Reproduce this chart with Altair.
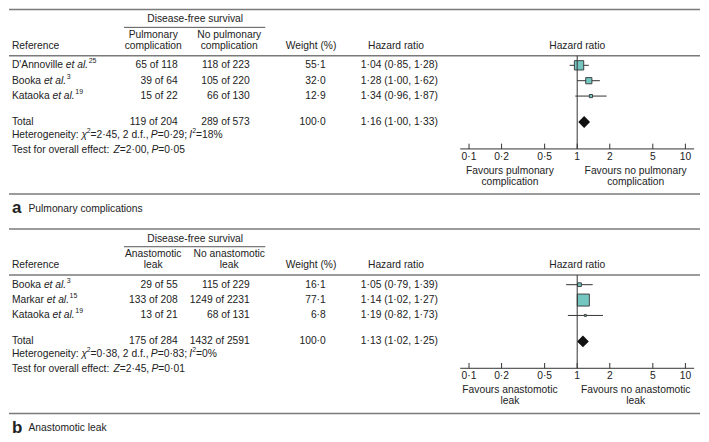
import altair as alt
import pandas as pd

# ------------------------------------------------------------------ data
A_refs = ["D'Annoville", "Booka", "Kataoka"]
A_refnum = ["25", "3", "19"]
A_exp_events = [65, 39, 15]
A_exp_total = [118, 64, 22]
A_ctl_events = [118, 105, 66]
A_ctl_total = [223, 220, 130]
A_weight = [55.1, 32.0, 12.9]
A_hr = [1.04, 1.28, 1.34]
A_lo = [0.85, 1.00, 0.96]
A_hi = [1.28, 1.62, 1.87]
A_total = [119, 204, 289, 573, 100.0, 1.16, 1.00, 1.33]
A_het = [2.45, 2, 0.29, 18]     # chi2, df, P, I2
A_test = [2.00, 0.05]           # Z, P
A_groups = [["Pulmonary", "complication"], ["No pulmonary", "complication"]]
A_favours = [["Favours pulmonary", "complication"], ["Favours no pulmonary", "complication"]]
A_caption = ["a", "Pulmonary complications"]

B_refs = ["Booka", "Markar", "Kataoka"]
B_refnum = ["3", "15", "19"]
B_exp_events = [29, 133, 13]
B_exp_total = [55, 208, 21]
B_ctl_events = [115, 1249, 68]
B_ctl_total = [229, 2231, 131]
B_weight = [16.1, 77.1, 6.8]
B_hr = [1.05, 1.14, 1.19]
B_lo = [0.79, 1.02, 0.82]
B_hi = [1.39, 1.27, 1.73]
B_total = [175, 284, 1432, 2591, 100.0, 1.13, 1.02, 1.25]
B_het = [0.38, 2, 0.83, 0]
B_test = [2.45, 0.01]
B_groups = [["Anastomotic", "leak"], ["No anastomotic", "leak"]]
B_favours = [["Favours anastomotic", "leak"], ["Favours no anastomotic", "leak"]]
B_caption = ["b", "Anastomotic leak"]

tick_values = [0.1, 0.2, 0.5, 1, 2, 5, 10]

# ------------------------------------------------------------------ style / layout
FONT = "Liberation Sans"
TXT = "#222222"
RULE = "#7a7a7a"
DARK = "#333333"
TEAL = "#74c6c1"
SX = 693 / 709
SY = 426 / 442
FS = 10.3
SUP = 7.0
W_TOTAL = 693

ARIAL = {' ': 278, '!': 278, '%': 889, "'": 191, '(': 333, ')': 333, ',': 278, '-': 333,
         '.': 278, '/': 278, ':': 278, ';': 278, '=': 584, '·': 278, 'χ': 500}
for c in "0123456789":
    ARIAL[c] = 556
for c, w in zip("ABCDEFGHIJKLMNOPQRSTUVWXYZ",
                [667, 667, 722, 722, 667, 611, 778, 722, 278, 500, 667, 556, 833, 722, 778,
                 667, 778, 722, 667, 611, 722, 667, 944, 667, 667, 611]):
    ARIAL[c] = w
for c, w in zip("abcdefghijklmnopqrstuvwxyz",
                [556, 556, 500, 556, 556, 278, 556, 556, 222, 222, 500, 222, 833, 556, 556,
                 556, 556, 333, 500, 278, 556, 500, 722, 500, 500, 500]):
    ARIAL[c] = w


def tw(s, size):
    return sum(ARIAL.get(c, 556) for c in s) / 1000 * size


def X(px):
    return px * SX


def Y(py):
    return py * SY


def dot(v, nd):
    return f"{v:.{nd}f}".replace(".", "·")


ONE = pd.DataFrame({"k": [0]})
LOG = alt.Scale(type="log", domain=[0.1, 10], range=[X(472), X(694)])


def T(text, x, y, align="center", size=FS, style="normal", weight="normal", dy=0):
    return alt.Chart(ONE).mark_text(
        align=align, baseline="middle", font=FONT, fontSize=size, fontStyle=style,
        fontWeight=weight, color=TXT, dy=dy
    ).encode(x=alt.value(x), y=alt.value(y), text=alt.value(text))


def segs(parts, x0, y):
    out = []
    x = x0
    for t, kind in parts:
        size = SUP if kind == "s" else FS
        lead = len(t) - len(t.lstrip(" "))
        out.append(T(t.strip(" "), x + tw(" " * lead, size), y, align="left", size=size,
                     style="italic" if kind == "i" else "normal",
                     dy=-4 if kind == "s" else 0))
        x += tw(t, size)
    return out


def hline(x1, x2, y, color=RULE, width=1.5):
    return alt.Chart(ONE).mark_rule(color=color, strokeWidth=width).encode(
        x=alt.value(x1), x2=alt.value(x2), y=alt.value(y))


def panel(refs, nums, ee, et, ce, ct, wts, hrs, los, his, tot, het, test,
          groups, favours, caption, height):
    L = []
    # rules
    L.append(hline(0, W_TOTAL, Y(1)))
    L.append(hline(0, W_TOTAL, Y(49)))
    L.append(hline(0, W_TOTAL, Y(193)))
    L.append(hline(X(118), X(263), Y(19.5), color="#555555", width=1))
    # headers
    L.append(T("Disease-free survival", X(191), Y(11)))
    for cx, lines in zip([X(148), X(226)], groups):
        L.append(T(lines[0], cx, Y(27)))
        L.append(T(lines[1], cx, Y(39)))
    L.append(T("Reference", X(3), Y(39), align="left"))
    L.append(T("Weight (%)", X(310), Y(39)))
    L.append(T("Hazard ratio", X(397), Y(39)))
    L.append(T("Hazard ratio", X(583), Y(39)))

    # study rows
    rows = pd.DataFrame({
        "ref": refs, "num": nums, "row": list(range(len(refs))),
        "e_str": [f"{a} of {b}" for a, b in zip(ee, et)],
        "c_str": [f"{a} of {b}" for a, b in zip(ce, ct)],
        "w": wts, "w_str": [dot(w, 1) for w in wts],
        "hr": hrs, "lo": los, "hi": his,
        "hr_str": [f"{dot(h, 2)} ({dot(l, 2)}, {dot(u, 2)})" for h, l, u in zip(hrs, los, his)],
    })
    rows["etal_x"] = [X(3) + tw(r + " ", FS) for r in refs]
    rows["sup_x"] = [X(3) + tw(r + " et al.", FS) + 0.6 for r in refs]
    yrow = alt.Y("row:Q", scale=alt.Scale(domain=[0, 2], range=[Y(59), Y(91)]), axis=None)
    base = alt.Chart(rows)
    tkw = dict(baseline="middle", font=FONT, fontSize=FS, color=TXT)
    L.append(base.mark_text(align="left", **tkw).encode(x=alt.value(X(3)), y=yrow, text="ref:N"))
    L.append(base.mark_text(align="left", fontStyle="italic", **tkw).encode(
        x=alt.X("etal_x:Q", scale=None), y=yrow, text=alt.value("et al.")))
    L.append(base.mark_text(align="left", baseline="middle", font=FONT, fontSize=SUP, color=TXT, dy=-4).encode(
        x=alt.X("sup_x:Q", scale=None), y=yrow, text="num:N"))
    L.append(base.mark_text(align="right", **tkw).encode(x=alt.value(X(173)), y=yrow, text="e_str:N"))
    L.append(base.mark_text(align="right", **tkw).encode(x=alt.value(X(247)), y=yrow, text="c_str:N"))
    L.append(base.mark_text(align="right", **tkw).encode(x=alt.value(X(325)), y=yrow, text="w_str:N"))
    L.append(base.mark_text(align="left", **tkw).encode(x=alt.value(X(361)), y=yrow, text="hr_str:N"))
    L.append(base.mark_rule(color=DARK, strokeWidth=1).encode(
        x=alt.X("lo:Q", scale=LOG, axis=None), x2="hi:Q", y=yrow))
    L.append(base.mark_square(fill=TEAL, stroke=DARK, strokeWidth=0.9, opacity=1).encode(
        x=alt.X("hr:Q", scale=LOG, axis=None), y=yrow,
        size=alt.Size("w:Q", scale=alt.Scale(type="pow", exponent=1.5, domain=[0, 100], range=[0, 215]),
                      legend=None)))

    # totals
    ty = Y(118)
    L.append(T("Total", X(3), ty, align="left"))
    L.append(T(f"{tot[0]} of {tot[1]}", X(173), ty, align="right"))
    L.append(T(f"{tot[2]} of {tot[3]}", X(247), ty, align="right"))
    L.append(T(dot(tot[4], 1), X(325), ty, align="right"))
    L.append(T(f"{dot(tot[5], 2)} ({dot(tot[6], 2)}, {dot(tot[7], 2)})", X(361), ty, align="left"))
    totdf = pd.DataFrame({"hr": [tot[5]], "lo": [tot[6]], "hi": [tot[7]]})
    L.append(alt.Chart(totdf).mark_point(shape="diamond", filled=True, color="#111111", size=140, opacity=1).encode(
        x=alt.X("hr:Q", scale=LOG, axis=None), y=alt.value(ty)))

    # heterogeneity / test
    L += segs([("Heterogeneity: ", "n"), ("χ", "i"), ("2", "s"),
               (f"={dot(het[0], 2)}, {het[1]} d.f., ", "n"), ("P", "i"),
               (f"={dot(het[2], 2)}; ", "n"), ("I", "i"), ("2", "s"), (f"={het[3]}%", "n")],
              X(3), Y(131))
    L += segs([("Test for overall effect: ", "n"), ("Z", "i"), (f"={dot(test[0], 2)}, ", "n"),
               ("P", "i"), (f"={dot(test[1], 2)}", "n")], X(3), Y(147))

    # forest axis
    L.append(alt.Chart(pd.DataFrame({"v": [1.0]})).mark_rule(color=DARK, strokeWidth=1).encode(
        x=alt.X("v:Q", scale=LOG, axis=None), y=alt.value(Y(49)), y2=alt.value(Y(146))))
    L.append(hline(X(463), X(703), Y(146), color=DARK, width=1))
    ticks = pd.DataFrame({"t": tick_values,
                          "lab": [dot(v, 1) if v < 1 else str(int(v)) for v in tick_values]})
    L.append(alt.Chart(ticks).mark_rule(color=DARK, strokeWidth=1).encode(
        x=alt.X("t:Q", scale=LOG, axis=None), y=alt.value(Y(140.5)), y2=alt.value(Y(146))))
    L.append(alt.Chart(ticks).mark_text(baseline="middle", font=FONT, fontSize=FS, color=TXT).encode(
        x=alt.X("t:Q", scale=LOG, axis=None), y=alt.value(Y(154)), text="lab:N"))
    for cx, lines in zip([X(514), X(643)], favours):
        L.append(T(lines[0], cx, Y(168.5)))
        L.append(T(lines[1], cx, Y(180.5)))

    # caption
    L.append(T(caption[0], X(3), Y(208), align="left", size=17, weight="bold"))
    L.append(T(caption[1], X(20), Y(208.5), align="left"))

    return alt.layer(*L).resolve_scale(x="independent", y="independent", size="independent").properties(
        width=W_TOTAL, height=height)


pa = panel(A_refs, A_refnum, A_exp_events, A_exp_total, A_ctl_events, A_ctl_total, A_weight,
           A_hr, A_lo, A_hi, A_total, A_het, A_test, A_groups, A_favours, A_caption, 220)
pb = panel(B_refs, B_refnum, B_exp_events, B_exp_total, B_ctl_events, B_ctl_total, B_weight,
           B_hr, B_lo, B_hi, B_total, B_het, B_test, B_groups, B_favours, B_caption, 206)

chart = alt.vconcat(pa, pb, spacing=0).properties(padding=0).configure_view(stroke=None)
chart.save("out.html", embed_options={"renderer": "svg", "actions": False})
